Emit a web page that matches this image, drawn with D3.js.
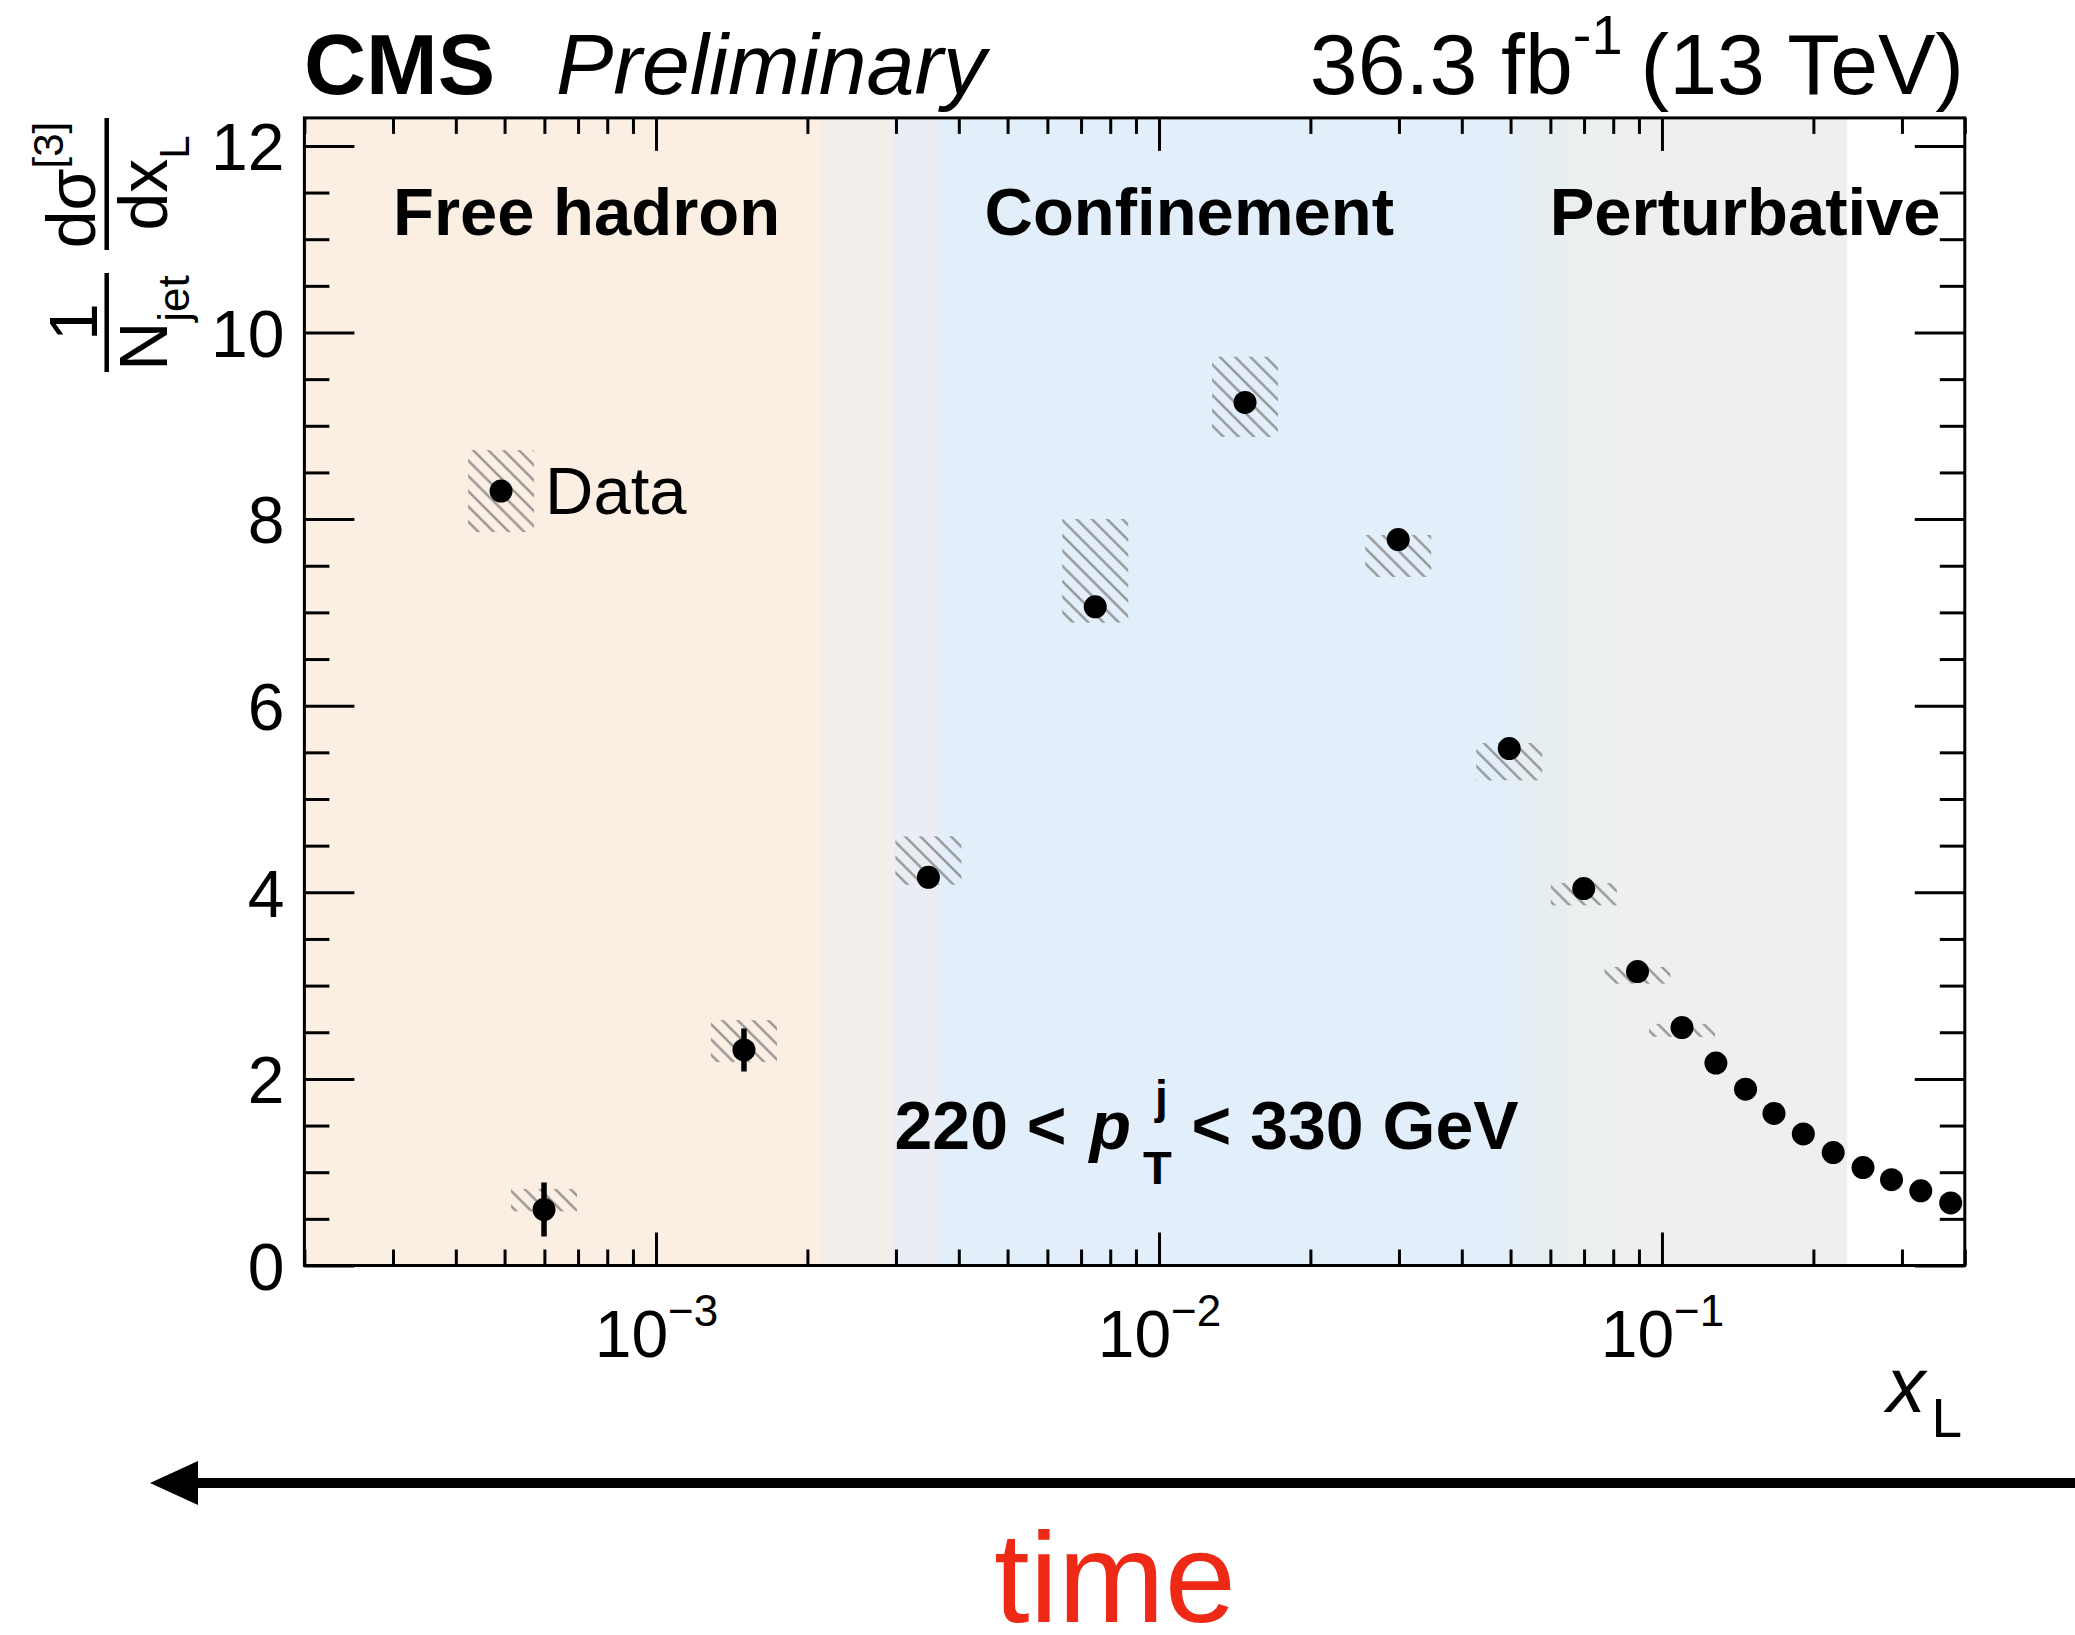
<!DOCTYPE html>
<html>
<head>
<meta charset="utf-8">
<script src="https://cdn.jsdelivr.net/npm/d3@7"></script>
<style>
  html, body { margin: 0; padding: 0; background: #ffffff; }
  svg { display: block; }
  text { font-family: "Liberation Sans", Arial, Helvetica, sans-serif; white-space: pre; }
</style>
</head>
<body>
<svg id="chart" width="2075" height="1635"></svg>
<script>
// ---- measured distribution: 1/N dsigma[3]/dx_L, 220 < pT < 330 GeV ----
const xL        = [5.99e-4, 1.496e-3, 3.48e-3, 7.47e-3, 0.01483, 0.0299, 0.0497, 0.0699, 0.0894, 0.1096,
                   0.128, 0.1466, 0.167, 0.191, 0.219, 0.251, 0.286, 0.327, 0.375];
const yield3    = [0.60, 2.31, 4.16, 7.06, 9.25, 7.78, 5.54, 4.04, 3.15, 2.55,
                   2.17, 1.89, 1.63, 1.41, 1.21, 1.05, 0.92, 0.80, 0.67];
const statErr   = [0.29, 0.23, 0.03, 0.05, 0.05, 0.03, 0.03, 0.03, 0.03, 0.02,
                   0.02, 0.02, 0.02, 0.02, 0.02, 0.02, 0.02, 0.02, 0.02];
const sysUp     = [0.22, 0.32, 0.44, 0.94, 0.49, 0.05, 0.06, 0.06, 0.05, 0.04,
                   0.00, 0.00, 0.00, 0.00, 0.00, 0.00, 0.00, 0.00, 0.00];
const sysDown   = [0.02, 0.13, 0.08, 0.17, 0.37, 0.40, 0.34, 0.18, 0.13, 0.10,
                   0.00, 0.00, 0.00, 0.00, 0.00, 0.00, 0.00, 0.00, 0.00];

// regimes shaded behind the points (edges in x_L)
const bandEdges  = [2e-4, 2.12e-3, 2.97e-3, 3.67e-3, 0.0487, 0.0525, 0.0645, 0.0793, 0.233];
const regionNames = ["Free hadron", "Confinement", "Perturbative"];
const regionLabelX = [3.0e-4, 4.5e-3, 0.0598];

// axis ticks
const yTickValues = [0, 2, 4, 6, 8, 10, 12];
const xTickValues = [1e-3, 1e-2, 1e-1];

// ---- styles ----
const bandColors = ["#FBEEE2", "#F3EEEA", "#EAEEF4", "#E2EEF9", "#E4EEF6", "#E7EEF2", "#EBEFEF", "#EFEFEF"];
const FONT = 66;

const svg = d3.select("#chart");

const x = d3.scaleLog().domain([2e-4, 0.4]).range([304.4, 1964.8]);
const y = d3.scaleLinear().domain([0, 12.3]).range([1265.5, 117.9]);
const [x0, x1] = x.range();
const [yb, yt] = y.range();

// hatch used for systematic uncertainty boxes
const defs = svg.append("defs");
const pat = defs.append("pattern")
  .attr("id", "hatch")
  .attr("patternUnits", "userSpaceOnUse")
  .attr("width", 10.8).attr("height", 10.8)
  .attr("patternTransform", "rotate(45)");
pat.append("line")
  .attr("x1", 0).attr("x2", 10.8).attr("y1", 5.4).attr("y2", 5.4)
  .attr("stroke", "#8e8e8e").attr("stroke-width", 2.2);

defs.append("clipPath").attr("id", "plotClip")
  .append("rect").attr("x", x0).attr("y", yt).attr("width", x1 - x0).attr("height", yb - yt);

// ---- shaded regimes ----
const bands = svg.append("g").attr("clip-path", "url(#plotClip)");
bands.selectAll("rect")
  .data(d3.range(bandColors.length))
  .join("rect")
  .attr("x", i => x(bandEdges[i]))
  .attr("width", i => x(bandEdges[i + 1]) - x(bandEdges[i]) + 0.5)
  .attr("y", yt).attr("height", yb - yt)
  .attr("fill", i => bandColors[i]);

// regime names
svg.append("g").selectAll("text")
  .data(regionNames)
  .join("text")
  .attr("x", (d, i) => x(regionLabelX[i]))
  .attr("y", y(11.05))
  .attr("font-size", 67).attr("font-weight", "bold")
  .text(d => d);

// ---- data ----
const pts = xL.map((v, i) => ({ x: v, y: yield3[i], e: statErr[i], up: sysUp[i], dn: sysDown[i] }));
const boxHalf = 33;
const dataG = svg.append("g").attr("clip-path", "url(#plotClip)");

dataG.selectAll("rect.sys")
  .data(pts.filter(d => d.up + d.dn > 0))
  .join("rect")
  .attr("class", "sys")
  .attr("x", d => x(d.x) - boxHalf)
  .attr("width", 2 * boxHalf)
  .attr("y", d => y(d.y + d.up))
  .attr("height", d => y(d.y - d.dn) - y(d.y + d.up))
  .attr("fill", "url(#hatch)");

dataG.selectAll("line.stat")
  .data(pts)
  .join("line")
  .attr("class", "stat")
  .attr("x1", d => x(d.x)).attr("x2", d => x(d.x))
  .attr("y1", d => y(d.y - d.e)).attr("y2", d => y(d.y + d.e))
  .attr("stroke", "#000").attr("stroke-width", 5.5);

dataG.selectAll("circle")
  .data(pts)
  .join("circle")
  .attr("cx", d => x(d.x)).attr("cy", d => y(d.y))
  .attr("r", 11.5).attr("fill", "#000");

// legend
const legX = x(4.92e-4), legY = y(8.3);
const leg = svg.append("g");
leg.append("rect")
  .attr("x", legX - boxHalf).attr("y", legY - 41)
  .attr("width", 2 * boxHalf).attr("height", 82)
  .attr("fill", "url(#hatch)");
leg.append("circle").attr("cx", legX).attr("cy", legY).attr("r", 11.5).attr("fill", "#000");
leg.append("text")
  .attr("x", legX + 44).attr("y", legY + 23)
  .attr("font-size", 67)
  .text("Data");

// pT bin label: 220 < p_T^j < 330 GeV
(function () {
  const gx = x(2.98e-3), gy = y(1.245);
  const g = svg.append("g").attr("font-weight", "bold").attr("font-size", 68);
  const t1 = g.append("text").attr("x", gx).attr("y", gy).text("220 < ");
  let cx = gx + t1.node().getComputedTextLength() + 4;
  const tp = g.append("text").attr("x", cx).attr("y", gy).attr("font-style", "italic").text("p");
  cx += tp.node().getComputedTextLength() + 12;
  const ts = g.append("text").attr("x", cx).attr("y", gy + 35).attr("font-size", 47).text("T");
  g.append("text").attr("x", cx + 12).attr("y", gy - 36).attr("font-size", 46).text("j");
  cx += ts.node().getComputedTextLength() + 1;
  g.append("text").attr("x", cx).attr("y", gy).text(" < 330 GeV");
})();

// ---- axes (ticks inside the frame, mirrored on top/right) ----
function styleAxis(g) {
  g.select(".domain").remove();
  g.selectAll(".tick line").attr("stroke", "#000").attr("stroke-width", 3);
}

const yMinor = y.ticks(24).filter(v => !yTickValues.includes(v));
const xMinor = x.ticks().filter(v => !xTickValues.some(t => Math.abs(v / t - 1) < 1e-6));

// left
svg.append("g").attr("transform", `translate(${x0},0)`)
  .call(d3.axisLeft(y).tickValues(yMinor).tickSize(-25).tickFormat(""))
  .call(styleAxis);
const yAxisG = svg.append("g").attr("transform", `translate(${x0},0)`)
  .call(d3.axisLeft(y).tickValues(yTickValues).tickSize(-50).tickPadding(20).tickFormat(d3.format("d")))
  .call(styleAxis);
yAxisG.attr("font-size", FONT).attr("font-family", null);
yAxisG.selectAll(".tick text").attr("fill", "#000").attr("dy", "0.36em");

// right
svg.append("g").attr("transform", `translate(${x1},0)`)
  .call(d3.axisRight(y).tickValues(yMinor).tickSize(-25).tickFormat(""))
  .call(styleAxis);
svg.append("g").attr("transform", `translate(${x1},0)`)
  .call(d3.axisRight(y).tickValues(yTickValues).tickSize(-50).tickFormat(""))
  .call(styleAxis);

// bottom
svg.append("g").attr("transform", `translate(0,${yb})`)
  .call(d3.axisBottom(x).tickValues(xMinor).tickSize(-16).tickFormat(""))
  .call(styleAxis);
const xAxisG = svg.append("g").attr("transform", `translate(0,${yb})`)
  .call(d3.axisBottom(x).tickValues(xTickValues).tickSize(-33).tickFormat(""))
  .call(styleAxis);
xAxisG.attr("font-size", FONT).attr("font-family", null);
xAxisG.selectAll(".tick text").each(function (d) {
  const t = d3.select(this).attr("y", 91).attr("dy", 0).attr("fill", "#000");
  const e = Math.round(Math.log10(d));
  t.append("tspan").text("10");
  t.append("tspan").attr("dy", -31).attr("font-size", 44).text("\u2212" + Math.abs(e));
});

// top
svg.append("g").attr("transform", `translate(0,${yt})`)
  .call(d3.axisTop(x).tickValues(xMinor).tickSize(-16).tickFormat(""))
  .call(styleAxis);
svg.append("g").attr("transform", `translate(0,${yt})`)
  .call(d3.axisTop(x).tickValues(xTickValues).tickSize(-33).tickFormat(""))
  .call(styleAxis);

// frame
svg.append("rect")
  .attr("x", x0).attr("y", yt).attr("width", x1 - x0).attr("height", yb - yt)
  .attr("fill", "none").attr("stroke", "#000").attr("stroke-width", 3);

// x-axis title
svg.append("text")
  .attr("x", 1962).attr("y", 1412)
  .attr("text-anchor", "end")
  .call(t => {
    t.append("tspan").attr("font-size", 78).attr("font-style", "italic").text("x");
    t.append("tspan").attr("font-size", 55).attr("dx", 6).attr("dy", 25).text("L");
  });

// y-axis title, built as two stacked fractions and rotated
(function () {
  const g = svg.append("g").attr("transform", "rotate(-90)");
  const barY = 106.7;
  // 1 / N_jet
  g.append("line").attr("x1", -372).attr("x2", -273).attr("y1", barY).attr("y2", barY)
    .attr("stroke", "#000").attr("stroke-width", 4.5);
  g.append("text").attr("x", -322).attr("y", 97).attr("text-anchor", "middle")
    .attr("font-size", 68).text("1");
  g.append("text").attr("x", -323).attr("y", 167).attr("text-anchor", "middle")
    .call(t => {
      t.append("tspan").attr("font-size", 68).text("N");
      t.append("tspan").attr("font-size", 44).attr("dy", 22).text("jet");
    });
  // dsigma[3] / dx_L
  g.append("line").attr("x1", -250).attr("x2", -118).attr("y1", barY).attr("y2", barY)
    .attr("stroke", "#000").attr("stroke-width", 4.5);
  g.append("text").attr("x", -185).attr("y", 95).attr("text-anchor", "middle")
    .call(t => {
      t.append("tspan").attr("font-size", 68).text("d\u03C3");
      t.append("tspan").attr("font-size", 42).attr("dy", -32).text("[3]");
    });
  g.append("text").attr("x", -183).attr("y", 167).attr("text-anchor", "middle")
    .call(t => {
      t.append("tspan").attr("font-size", 68).text("dx");
      t.append("tspan").attr("font-size", 42).attr("dy", 22).text("L");
    });
})();

// header
svg.append("text").attr("x", 304).attr("y", 94)
  .attr("font-size", 86).attr("font-weight", "bold").text("CMS");
svg.append("text").attr("x", 556).attr("y", 94)
  .attr("font-size", 86).attr("font-style", "italic").text("Preliminary");
svg.append("text").attr("x", 1964).attr("y", 94).attr("text-anchor", "end")
  .attr("font-size", 86)
  .call(t => {
    t.append("tspan").text("36.3 fb");
    t.append("tspan").attr("font-size", 56).attr("dy", -40).text("-1");
    t.append("tspan").attr("dy", 40).attr("dx", -6).text(" (13 TeV)");
  });

// time arrow (pointing towards small x_L)
const arrowY = 1483;
svg.append("line").attr("x1", 2075).attr("x2", 185).attr("y1", arrowY).attr("y2", arrowY)
  .attr("stroke", "#000").attr("stroke-width", 10);
svg.append("path")
  .attr("d", `M150,${arrowY} L198,${arrowY - 22} L198,${arrowY + 22} Z`)
  .attr("fill", "#000");
svg.append("text").attr("x", 1115).attr("y", 1622).attr("text-anchor", "middle")
  .attr("font-size", 128).attr("fill", "#EE2A16").text("time");
</script>
</body>
</html>
